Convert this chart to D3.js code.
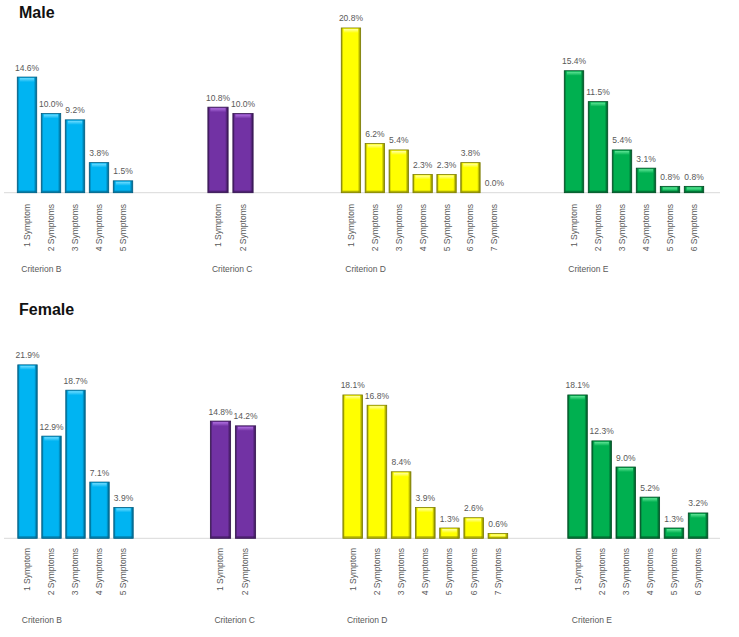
<!DOCTYPE html>
<html>
<head>
<meta charset="utf-8">
<script src="https://cdn.jsdelivr.net/npm/d3@7"></script>
<style>
  html, body { margin: 0; padding: 0; background: #ffffff; }
  svg { display: block; }
</style>
</head>
<body>
<svg id="chart" width="739" height="637"></svg>
<script>
// ---------- DATA ----------
const criteria = ["Criterion B", "Criterion C", "Criterion D", "Criterion E"];
const catB = ["1 Symptom", "2 Symptoms", "3 Symptoms", "4 Symptoms", "5 Symptoms"];
const catC = ["1 Symptom", "2 Symptoms"];
const catD = ["1 Symptom", "2 Symptoms", "3 Symptoms", "4 Symptoms", "5 Symptoms", "6 Symptoms", "7 Symptoms"];
const catE = ["1 Symptom", "2 Symptoms", "3 Symptoms", "4 Symptoms", "5 Symptoms", "6 Symptoms"];

const maleB = [14.6, 10.0, 9.2, 3.8, 1.5];
const maleC = [10.8, 10.0];
const maleD = [20.8, 6.2, 5.4, 2.3, 2.3, 3.8, 0.0];
const maleE = [15.4, 11.5, 5.4, 3.1, 0.8, 0.8];

const femaleB = [21.9, 12.9, 18.7, 7.1, 3.9];
const femaleC = [14.8, 14.2];
const femaleD = [18.1, 16.8, 8.4, 3.9, 1.3, 2.6, 0.6];
const femaleE = [18.1, 12.3, 9.0, 5.2, 1.3, 3.2];

const panelTitles = ["Male", "Female"];

// ---------- STYLE / LAYOUT ----------
const colors = [
  { face: "#00b4f2", light: "#6fdcff", dark: "#005f84" },
  { face: "#7232a4", light: "#b06fe0", dark: "#361650" },
  { face: "#ffff00", light: "#ffffa8", dark: "#7e7e00" },
  { face: "#00b050", light: "#5fe596", dark: "#004f24" }
];

const panels = [
  { title: panelTitles[0], groups: [catB, catC, catD, catE], values: [maleB, maleC, maleD, maleE],
    titleY: 18, base: 192.7, starts: [15, 205.5, 339, 562], steps: [24, 25, 23.9, 24],
    catTop: 204, critY: 272 },
  { title: panelTitles[1], groups: [catB, catC, catD, catE], values: [femaleB, femaleC, femaleD, femaleE],
    titleY: 315, base: 538.3, starts: [15.5, 208, 340.6, 565.5], steps: [24, 25, 24.2, 24.1],
    catTop: 548, critY: 623 }
];

const pxPerUnit = 7.92;
const labelColor = "#595959";
const font = "'Liberation Sans', Arial, sans-serif";

const svg = d3.select("#chart");
const defs = svg.append("defs");

colors.forEach((c, i) => {
  const g = defs.append("linearGradient").attr("id", "grad" + i)
    .attr("x1", "0").attr("x2", "1").attr("y1", "0").attr("y2", "0");
  g.append("stop").attr("offset", "0").attr("stop-color", c.dark);
  g.append("stop").attr("offset", "0.1").attr("stop-color", c.face);
  g.append("stop").attr("offset", "0.85").attr("stop-color", c.face);
  g.append("stop").attr("offset", "1").attr("stop-color", c.dark);
  const h = defs.append("linearGradient").attr("id", "hl" + i)
    .attr("x1", "0").attr("x2", "0").attr("y1", "0").attr("y2", "1");
  h.append("stop").attr("offset", "0").attr("stop-color", c.light);
  h.append("stop").attr("offset", "1").attr("stop-color", c.face);
});

panels.forEach(p => {
  const y = d3.scaleLinear().domain([0, 22]).range([p.base, p.base - 22 * pxPerUnit]);

  svg.append("text")
    .attr("x", 19).attr("y", p.titleY)
    .attr("font-family", font).attr("font-weight", "bold").attr("font-size", 16)
    .attr("fill", "#111").text(p.title);

  svg.append("line")
    .attr("x1", 4).attr("x2", 720)
    .attr("y1", p.base).attr("y2", p.base)
    .attr("stroke", "#d9d9d9").attr("stroke-width", 1);

  p.groups.forEach((cats, gi) => {
    const vals = p.values[gi];
    const data = cats.map((c, i) => ({ cat: c, v: vals[i] }));
    const x = d3.scaleBand().domain(cats)
      .range([p.starts[gi], p.starts[gi] + cats.length * p.steps[gi]])
      .paddingInner(0.19).paddingOuter(0.095);
    const g = svg.append("g");
    const c = colors[gi];

    const bars = g.selectAll("g.bar").data(data).enter().append("g").attr("class", "bar");
    bars.filter(d => d.v > 0).append("rect")
      .attr("x", d => x(d.cat)).attr("width", x.bandwidth())
      .attr("y", d => y(d.v)).attr("height", d => y(0) - y(d.v))
      .attr("fill", `url(#grad${gi})`)
      .attr("stroke", c.dark).attr("stroke-width", 0.8);
    // top bevel highlight
    bars.filter(d => d.v > 0).append("rect")
      .attr("x", d => x(d.cat) + 2.5).attr("width", x.bandwidth() - 5)
      .attr("y", d => y(d.v) + 1)
      .attr("height", d => Math.min(4, Math.max(0, y(0) - y(d.v) - 2)))
      .attr("fill", `url(#hl${gi})`);
    // bottom bevel edge
    bars.filter(d => d.v > 0).append("rect")
      .attr("x", d => x(d.cat) + 1).attr("width", x.bandwidth() - 2)
      .attr("y", d => y(0) - Math.min(2, (y(0) - y(d.v)) / 3))
      .attr("height", d => Math.min(2, (y(0) - y(d.v)) / 3))
      .attr("fill", c.dark).attr("opacity", 0.6);

    // value labels
    g.selectAll("text.val").data(data).enter().append("text")
      .attr("x", d => x(d.cat) + x.bandwidth() / 2)
      .attr("y", d => y(d.v) - 6.5)
      .attr("text-anchor", "middle")
      .attr("font-family", font).attr("font-size", 8.5)
      .attr("fill", labelColor)
      .text(d => d.v.toFixed(1) + "%");

    // category labels (rotated)
    g.selectAll("text.cat").data(data).enter().append("text")
      .attr("transform", d => `translate(${x(d.cat) + x.bandwidth() / 2},${p.catTop}) rotate(-90)`)
      .attr("dy", "0.35em")
      .attr("text-anchor", "end")
      .attr("font-family", font).attr("font-size", 8.5)
      .attr("fill", labelColor)
      .text(d => d.cat);

    // criterion label
    g.append("text")
      .attr("x", x(cats[0]) + 4)
      .attr("y", p.critY)
      .attr("font-family", font).attr("font-size", 8.5)
      .attr("fill", labelColor)
      .text(criteria[gi]);
  });
});
</script>
</body>
</html>
